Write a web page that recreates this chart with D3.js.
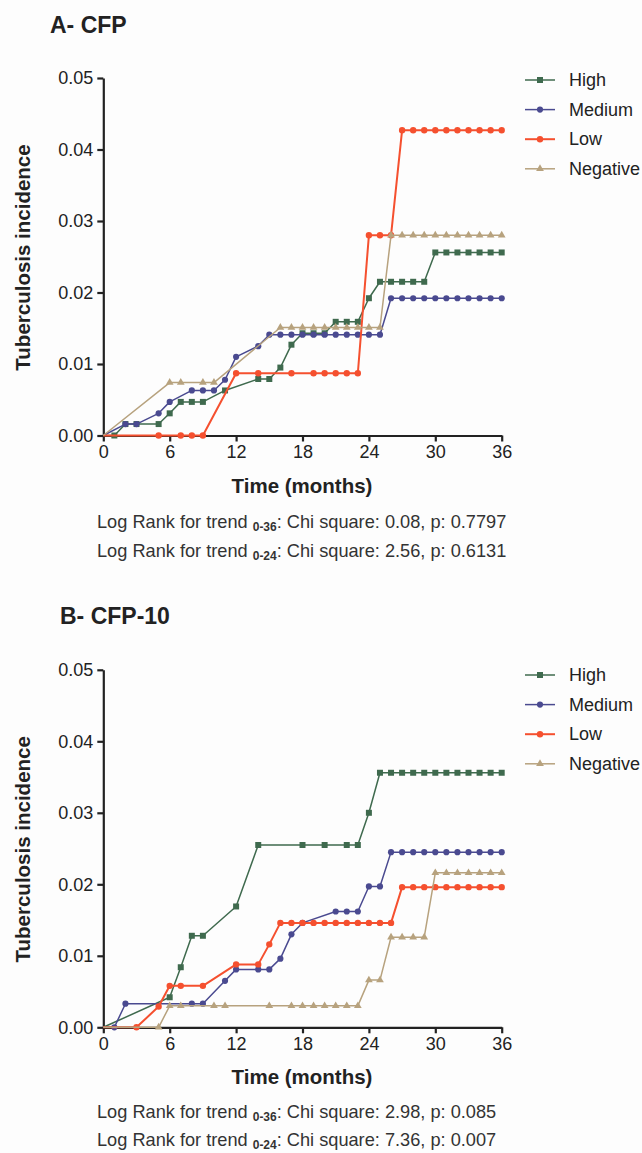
<!DOCTYPE html>
<html>
<head>
<meta charset="utf-8">
<script src="https://cdn.jsdelivr.net/npm/d3@7/dist/d3.min.js"></script>
<style>
  body { margin: 0; background: #fdfdfd; }
  svg { display: block; font-family: "Liberation Sans", Arial, sans-serif; }
</style>
</head>
<body>
<div id="chart"></div>
<script>
// month ticks / value ticks
const monthTicks = [0, 6, 12, 18, 24, 30, 36];
const valueTicks = [0, 0.01, 0.02, 0.03, 0.04, 0.05];
const groups = ["High", "Medium", "Low", "Negative"];

// panel A - CFP  ([month, cumulative incidence])
const cfpHigh = [[0,0],[1,0],[2,0.0016],[3,0.0016],[5,0.0016],[6,0.0031],[7,0.0047],[8,0.0047],[9,0.0047],
  [11,0.0063],[14,0.0079],[15,0.0079],[16,0.0095],[17,0.0127],[18,0.0143],[19,0.0143],[20,0.0143],
  [21,0.0159],[22,0.0159],[23,0.0159],[24,0.0192],[25,0.0215],[26,0.0215],[27,0.0215],[28,0.0215],[29,0.0215],
  [30,0.0256],[31,0.0256],[32,0.0256],[33,0.0256],[34,0.0256],[35,0.0256],[36,0.0256]];
const cfpMedium = [[0,0],[2,0.0016],[3,0.0016],[5,0.0031],[6,0.0047],[8,0.0063],[9,0.0063],[10,0.0063],
  [11,0.0078],[12,0.011],[14,0.0125],[15,0.0141],[16,0.0141],[17,0.0141],[18,0.0141],[19,0.0141],[20,0.0141],
  [21,0.0141],[22,0.0141],[23,0.0141],[24,0.0141],[25,0.0141],[26,0.0192],[27,0.0192],[28,0.0192],[29,0.0192],
  [30,0.0192],[31,0.0192],[32,0.0192],[33,0.0192],[34,0.0192],[35,0.0192],[36,0.0192]];
const cfpLow = [[0,0],[5,0],[7,0],[8,0],[9,0],[12,0.0087],[14,0.0087],[17,0.0087],[19,0.0087],[20,0.0087],
  [21,0.0087],[22,0.0087],[23,0.0087],[24,0.028],[25,0.028],[26,0.028],[27,0.0427],[28,0.0427],[29,0.0427],
  [30,0.0427],[31,0.0427],[32,0.0427],[33,0.0427],[34,0.0427],[35,0.0427],[36,0.0427]];
const cfpNegative = [[0,0],[6,0.0074],[7,0.0074],[9,0.0074],[10,0.0074],[16,0.0151],[17,0.0151],[18,0.0151],
  [19,0.0151],[20,0.0151],[21,0.0151],[22,0.0151],[23,0.0151],[24,0.0151],[25,0.0151],[26,0.028],[27,0.028],
  [28,0.028],[29,0.028],[30,0.028],[31,0.028],[32,0.028],[33,0.028],[34,0.028],[35,0.028],[36,0.028]];

// panel B - CFP-10
const cfp10High = [[0,0],[6,0.0042],[7,0.0084],[8,0.0128],[9,0.0128],[12,0.0169],[14,0.0255],[18,0.0255],
  [20,0.0255],[22,0.0255],[23,0.0255],[24,0.030],[25,0.0356],[26,0.0356],[27,0.0356],[28,0.0356],[29,0.0356],
  [30,0.0356],[31,0.0356],[32,0.0356],[33,0.0356],[34,0.0356],[35,0.0356],[36,0.0356]];
const cfp10Medium = [[0,0],[1,0],[2,0.0033],[8,0.0033],[9,0.0033],[11,0.0065],[12,0.0081],[14,0.0081],
  [15,0.0081],[16,0.0096],[17,0.013],[18,0.0146],[21,0.0162],[22,0.0162],[23,0.0162],[24,0.0197],[25,0.0197],
  [26,0.0245],[27,0.0245],[28,0.0245],[29,0.0245],[30,0.0245],[31,0.0245],[32,0.0245],[33,0.0245],[34,0.0245],
  [35,0.0245],[36,0.0245]];
const cfp10Low = [[0,0],[3,0],[5,0.0029],[6,0.0058],[7,0.0058],[9,0.0058],[12,0.0088],[14,0.0088],[15,0.0116],
  [16,0.0146],[17,0.0146],[18,0.0146],[19,0.0146],[20,0.0146],[21,0.0146],[22,0.0146],[23,0.0146],[24,0.0146],
  [25,0.0146],[26,0.0146],[27,0.0196],[28,0.0196],[29,0.0196],[30,0.0196],[31,0.0196],[32,0.0196],[33,0.0196],
  [34,0.0196],[35,0.0196],[36,0.0196]];
const cfp10Negative = [[0,0],[5,0],[6,0.003],[7,0.003],[10,0.003],[11,0.003],[15,0.003],[17,0.003],[18,0.003],
  [19,0.003],[20,0.003],[21,0.003],[22,0.003],[23,0.003],[24,0.0066],[25,0.0066],[26,0.0126],[27,0.0126],
  [28,0.0126],[29,0.0126],[30,0.0216],[31,0.0216],[32,0.0216],[33,0.0216],[34,0.0216],[35,0.0216],[36,0.0216]];

const statsA = [["0-36", ": Chi square: 0.08, p: 0.7797"], ["0-24", ": Chi square: 2.56, p: 0.6131"]];
const statsB = [["0-36", ": Chi square: 2.98, p: 0.085"], ["0-24", ": Chi square: 7.36, p: 0.007"]];

const colors = d3.scaleOrdinal().domain(groups)
  .range(["#3f6a4e", "#4a4a90", "#f5502f", "#b7a27e"]);
const shapes = d3.scaleOrdinal().domain(groups)
  .range([d3.symbolSquare, d3.symbolCircle, d3.symbolCircle, d3.symbolTriangle]);
const symSize = {High: 36, Medium: 30, Low: 32, Negative: 26};

const W = 642, H = 1153;
const svg = d3.select("#chart").append("svg").attr("width", W).attr("height", H);

function drawPanel(p) {
  let g = svg.append("g");

  let x = d3.scaleLinear().domain([0, 36]).range([103.3, 501.7]);
  let y = d3.scaleLinear().domain([0, 0.05]).range([p.y0, p.y0 - 357.5]);

  g.append("text")
    .attr("x", p.titleX).attr("y", p.y0 - 403)
    .style("font-size", "23px").style("font-weight", "bold").attr("fill", "#222")
    .text(p.title);

  // axes
  let yAxis = g.append("g").attr("transform", "translate(103.3,0)")
    .call(d3.axisLeft(y).tickValues(valueTicks).tickFormat(d3.format(".2f")).tickSize(6).tickSizeOuter(0).tickPadding(4));
  let xAxis = g.append("g").attr("transform", "translate(0," + p.y0 + ")")
    .call(d3.axisBottom(x).tickValues(monthTicks).tickSize(6).tickSizeOuter(0).tickPadding(4));
  [xAxis, yAxis].forEach(a => {
    a.select(".domain").attr("stroke", "#222").attr("stroke-width", 2.2);
    a.selectAll(".tick line").attr("stroke", "#222").attr("stroke-width", 2.2);
    a.selectAll(".tick text").attr("fill", "#222").style("font-size", "18px").style("font-family", "Liberation Sans, Arial, sans-serif");
  });

  g.append("text")
    .attr("transform", "translate(22," + (p.y0 - 178) + ") rotate(-90)")
    .attr("text-anchor", "middle").attr("dominant-baseline", "central")
    .style("font-size", "20.5px").style("font-weight", "bold").attr("fill", "#222")
    .text("Tuberculosis incidence");

  g.append("text")
    .attr("x", 302).attr("y", p.y0 + 57)
    .attr("text-anchor", "middle")
    .style("font-size", "20.5px").style("font-weight", "bold").attr("fill", "#222")
    .text("Time (months)");

  let line = d3.line().x(d => x(d[0])).y(d => y(d[1]));

  p.series.forEach((s, i) => {
    let key = groups[i];
    g.append("path").datum(s)
      .attr("fill", "none").attr("stroke", colors(key))
      .attr("stroke-width", key == "Low" ? 2 : 1.5)
      .attr("stroke-linejoin", "round")
      .attr("d", line);
    g.selectAll(".m" + i).data(s.filter(d => d[0] > 0)).enter()
      .append("path").attr("class", "m" + i)
      .attr("transform", d => "translate(" + x(d[0]) + "," + y(d[1]) + ")")
      .attr("d", d3.symbol().type(shapes(key)).size(symSize[key]))
      .attr("fill", colors(key));
  });

  // legend
  let leg = g.selectAll(".leg").data(groups).enter().append("g")
    .attr("transform", (d, i) => "translate(0," + (p.legY + i * 29.6) + ")");
  leg.append("line").attr("x1", 525).attr("x2", 555)
    .attr("stroke", d => colors(d)).attr("stroke-width", d => d == "Low" ? 2 : 1.5);
  leg.append("path").attr("transform", "translate(540,0)")
    .attr("d", d => d3.symbol().type(shapes(d)).size(symSize[d])())
    .attr("fill", d => colors(d));
  leg.append("text").attr("x", 569).attr("dominant-baseline", "central")
    .style("font-size", "18px").attr("fill", "#222")
    .text(d => d);

  // log rank lines
  p.stats.forEach((st, i) => {
    let t = g.append("text").attr("x", 97).attr("y", p.statY + i * 28.5)
      .style("font-size", "18.2px").attr("fill", "#333");
    t.append("tspan").text("Log Rank for trend ");
    t.append("tspan").attr("dy", 3).style("font-size", "12px").style("font-weight", "bold").text(st[0]);
    t.append("tspan").attr("dy", -3).text(st[1]);
  });
}

drawPanel({title: "A- CFP", titleX: 50, y0: 435.5, legY: 80, statY: 528,
  series: [cfpHigh, cfpMedium, cfpLow, cfpNegative], stats: statsA});
drawPanel({title: "B- CFP-10", titleX: 60, y0: 1027.3, legY: 675, statY: 1117.5,
  series: [cfp10High, cfp10Medium, cfp10Low, cfp10Negative], stats: statsB});
</script>
</body>
</html>
